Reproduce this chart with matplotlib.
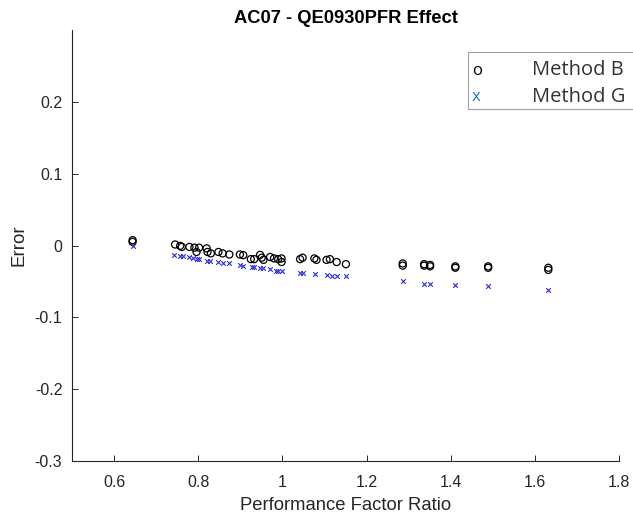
import matplotlib
matplotlib.use("Agg")
import matplotlib.pyplot as plt
from matplotlib.patches import Rectangle

# Data
b_x = [0.644, 0.644, 0.745, 0.757, 0.761, 0.779, 0.791, 0.796, 0.802, 0.820, 0.822, 0.830,
       0.848, 0.858, 0.874, 0.899, 0.907, 0.925, 0.933, 0.947, 0.951, 0.955, 0.971, 0.980,
       0.990, 0.998, 0.998, 1.042, 1.048, 1.076, 1.081, 1.105, 1.113, 1.129, 1.151,
       1.286, 1.286, 1.337, 1.337, 1.351, 1.351, 1.411, 1.411, 1.489, 1.489, 1.632, 1.632]
b_y = [0.0074, 0.005, 0.0014, -0.0005, -0.002, -0.002, -0.003, -0.009, -0.003, -0.004, -0.009, -0.011,
       -0.009, -0.011, -0.0125, -0.0125, -0.0134, -0.019, -0.019, -0.013, -0.017, -0.020, -0.016, -0.018,
       -0.019, -0.018, -0.023, -0.019, -0.017, -0.018, -0.020, -0.020, -0.019, -0.023, -0.026,
       -0.025, -0.028, -0.026, -0.028, -0.027, -0.029, -0.029, -0.031, -0.029, -0.031, -0.031, -0.034]
g_x = [0.644, 0.743, 0.757, 0.763, 0.779, 0.788, 0.796, 0.802, 0.820, 0.828, 0.848, 0.858,
       0.874, 0.899, 0.907, 0.927, 0.933, 0.947, 0.955, 0.971, 0.984, 0.990, 0.998, 1.043,
       1.048, 1.077, 1.105, 1.117, 1.129, 1.151, 1.286, 1.337, 1.351, 1.411, 1.489, 1.632]
g_y = [0.000, -0.0134, -0.0143, -0.015, -0.016, -0.018, -0.019, -0.019, -0.021, -0.021, -0.023, -0.024,
       -0.025, -0.027, -0.028, -0.030, -0.030, -0.032, -0.032, -0.033, -0.035, -0.035, -0.035, -0.038,
       -0.038, -0.040, -0.041, -0.042, -0.042, -0.043, -0.050, -0.053, -0.053, -0.055, -0.057, -0.062]

x_ticks = [0.6, 0.8, 1.0, 1.2, 1.4, 1.6, 1.8]
x_tick_labels = ["0.6", "0.8", "1", "1.2", "1.4", "1.6", "1.8"]
y_ticks = [-0.3, -0.2, -0.1, 0.0, 0.1, 0.2]
y_tick_labels = ["-0.3", "-0.2", "-0.1", "0", "0.1", "0.2"]
series_names = ["Method B", "Method G"]

W, H = 633, 517
fig = plt.figure(figsize=(W / 100, H / 100), dpi=100)
ax = fig.add_axes([72 / W, 1 - 461 / H, (619 - 72) / W, (461 - 30) / H])

gray = "#262626"
ax.scatter(b_x, b_y, s=26, facecolors="none", edgecolors="black", linewidths=0.9, zorder=3)
ax.scatter(g_x, g_y, s=11, marker="x", color="#2b2bdc", linewidths=0.8, zorder=3)

ax.set_xlim(0.5, 1.8)
ax.set_ylim(-0.3, 0.3)
ax.set_xticks(x_ticks)
ax.set_xticklabels(x_tick_labels)
ax.set_yticks(y_ticks)
ax.set_yticklabels(y_tick_labels)
for s in ["top", "right"]:
    ax.spines[s].set_visible(False)
for s in ["left", "bottom"]:
    ax.spines[s].set_color(gray)
    ax.spines[s].set_linewidth(0.8)
ax.tick_params(direction="in", length=4, width=0.7, color=gray, labelcolor=gray,
               labelsize=11.5)
ax.tick_params(axis="x", pad=10)
ax.tick_params(axis="y", pad=7)
for lab in ax.get_xticklabels() + ax.get_yticklabels():
    lab.set_family("Liberation Sans")

ax.set_xlabel("Performance Factor Ratio", fontsize=13.3, family="Liberation Sans", color=gray, labelpad=5)
ax.set_ylabel("Error", fontsize=13.5, family="Liberation Sans", color=gray, labelpad=5)
ax.set_title("AC07 - QE0930PFR Effect", fontsize=13.2, fontweight="bold", family="Liberation Sans",
             color="black", pad=5)

# Legend box (drawn as text, like the reference)
fig.patches.append(Rectangle((468 / W, 1 - 109 / H), (640 - 468) / W, (109 - 52) / H,
                             transform=fig.transFigure, facecolor="white",
                             edgecolor="#a0a0a0", linewidth=0.8, zorder=5))
fig.text(472 / W, 1 - 71 / H, "o", fontsize=12, family="Open Sans", color="black", va="center", zorder=6)
fig.text(472 / W, 1 - 97 / H, "x", fontsize=12, family="Open Sans", color="#1f78d1", va="center", zorder=6)
fig.text(532 / W, 1 - 70 / H, series_names[0], fontsize=14.5, family="Open Sans", color="#333333", va="center", zorder=6)
fig.text(532 / W, 1 - 97 / H, series_names[1], fontsize=14.5, family="Open Sans", color="#333333", va="center", zorder=6)

fig.savefig("out.png", dpi=100)
